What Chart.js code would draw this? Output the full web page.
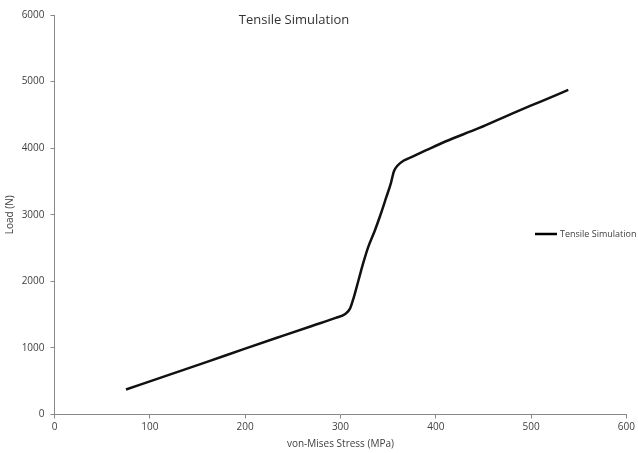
<!DOCTYPE html>
<html>
<head>
<meta charset="utf-8">
<script src="https://cdn.jsdelivr.net/npm/chart.js@4"></script>
<style>
  html, body { margin: 0; padding: 0; background: #fff; }
  #wrap { width: 638px; height: 453px; }
</style>
</head>
<body>
<div id="wrap"><canvas id="myChart"></canvas></div>
<script>
// values
const stress = [75, 120, 160, 200, 240, 270, 295, 305, 310, 314, 319, 324, 329, 336, 342, 348, 353, 356, 360, 366, 375, 390, 410, 445, 480, 510, 539];
const load = [375, 595, 790, 990, 1185, 1330, 1450, 1510, 1590, 1760, 2020, 2280, 2510, 2760, 3000, 3260, 3480, 3650, 3740, 3810, 3870, 3970, 4100, 4300, 4520, 4700, 4875];
const seriesName = 'Tensile Simulation';
const chartTitle = 'Tensile Simulation';
const xTitle = 'von-Mises Stress (MPa)';
const yTitle = 'Load (N)';

const pontos = stress.map((s, i) => ({ x: s, y: load[i] }));

const eixoCor = '#888888';
const textoCor = '#404040';

/* titulo e legenda desenhados a mao (o Excel deixa-os por cima da area) */
const extras = {
  id: 'extras',
  afterDraw(chart) {
    const ctx = chart.ctx;
    ctx.save();
    ctx.fillStyle = '#333333';
    ctx.font = '13px "Open Sans"';
    ctx.textAlign = 'center';
    ctx.textBaseline = 'middle';
    ctx.fillText(chartTitle, 294, 20);

    ctx.strokeStyle = '#000';
    ctx.lineWidth = 2.5;
    ctx.beginPath();
    ctx.moveTo(535, 234);
    ctx.lineTo(557, 234);
    ctx.stroke();
    ctx.fillStyle = textoCor;
    ctx.font = '9px "Open Sans"';
    ctx.textAlign = 'left';
    ctx.fillText(seriesName, 560, 234);
    ctx.restore();
  }
};

var myChart = new Chart(document.getElementById('myChart'), {
  type: 'scatter',
  data: {
    datasets: [{
      label: seriesName,
      data: pontos,
      showLine: true,
      borderColor: '#111111',
      backgroundColor: '#111111',
      borderWidth: 2.5,
      pointRadius: 0,
      cubicInterpolationMode: 'monotone'
    }]
  },
  options: {
    responsive: true,
    maintainAspectRatio: false,
    animation: false,
    layout: { padding: { top: 15, right: 8, bottom: 0, left: 0 } },
    plugins: {
      legend: { display: false },
      title: { display: false },
      tooltip: { enabled: false }
    },
    scales: {
      x: {
        type: 'linear',
        min: 0,
        max: 600,
        ticks: { stepSize: 100, color: textoCor, font: { family: 'Open Sans', size: 10 }, padding: 3,
          callback: (v) => String(v) },
        grid: { display: true, drawOnChartArea: false, drawTicks: true, tickLength: 4, color: eixoCor },
        border: { color: eixoCor, width: 1 },
        title: { display: true, text: xTitle, color: textoCor, font: { family: 'Open Sans', size: 10 }, padding: { top: 2, bottom: 3 } },
        afterFit(scale) { scale.height = 38.5; }
      },
      y: {
        min: 0,
        max: 6000,
        ticks: { stepSize: 1000, color: textoCor, font: { family: 'Open Sans', size: 10 }, padding: 6,
          callback: (v) => String(v) },
        grid: { display: true, drawOnChartArea: false, drawTicks: true, tickLength: 4, color: eixoCor },
        border: { color: eixoCor, width: 1 },
        title: { display: true, text: yTitle, color: textoCor, font: { family: 'Open Sans', size: 10 }, padding: { top: 4, bottom: 4 } },
        afterFit(scale) { scale.width = 54.5; }
      }
    }
  },
  plugins: [extras]
});
</script>
</body>
</html>
